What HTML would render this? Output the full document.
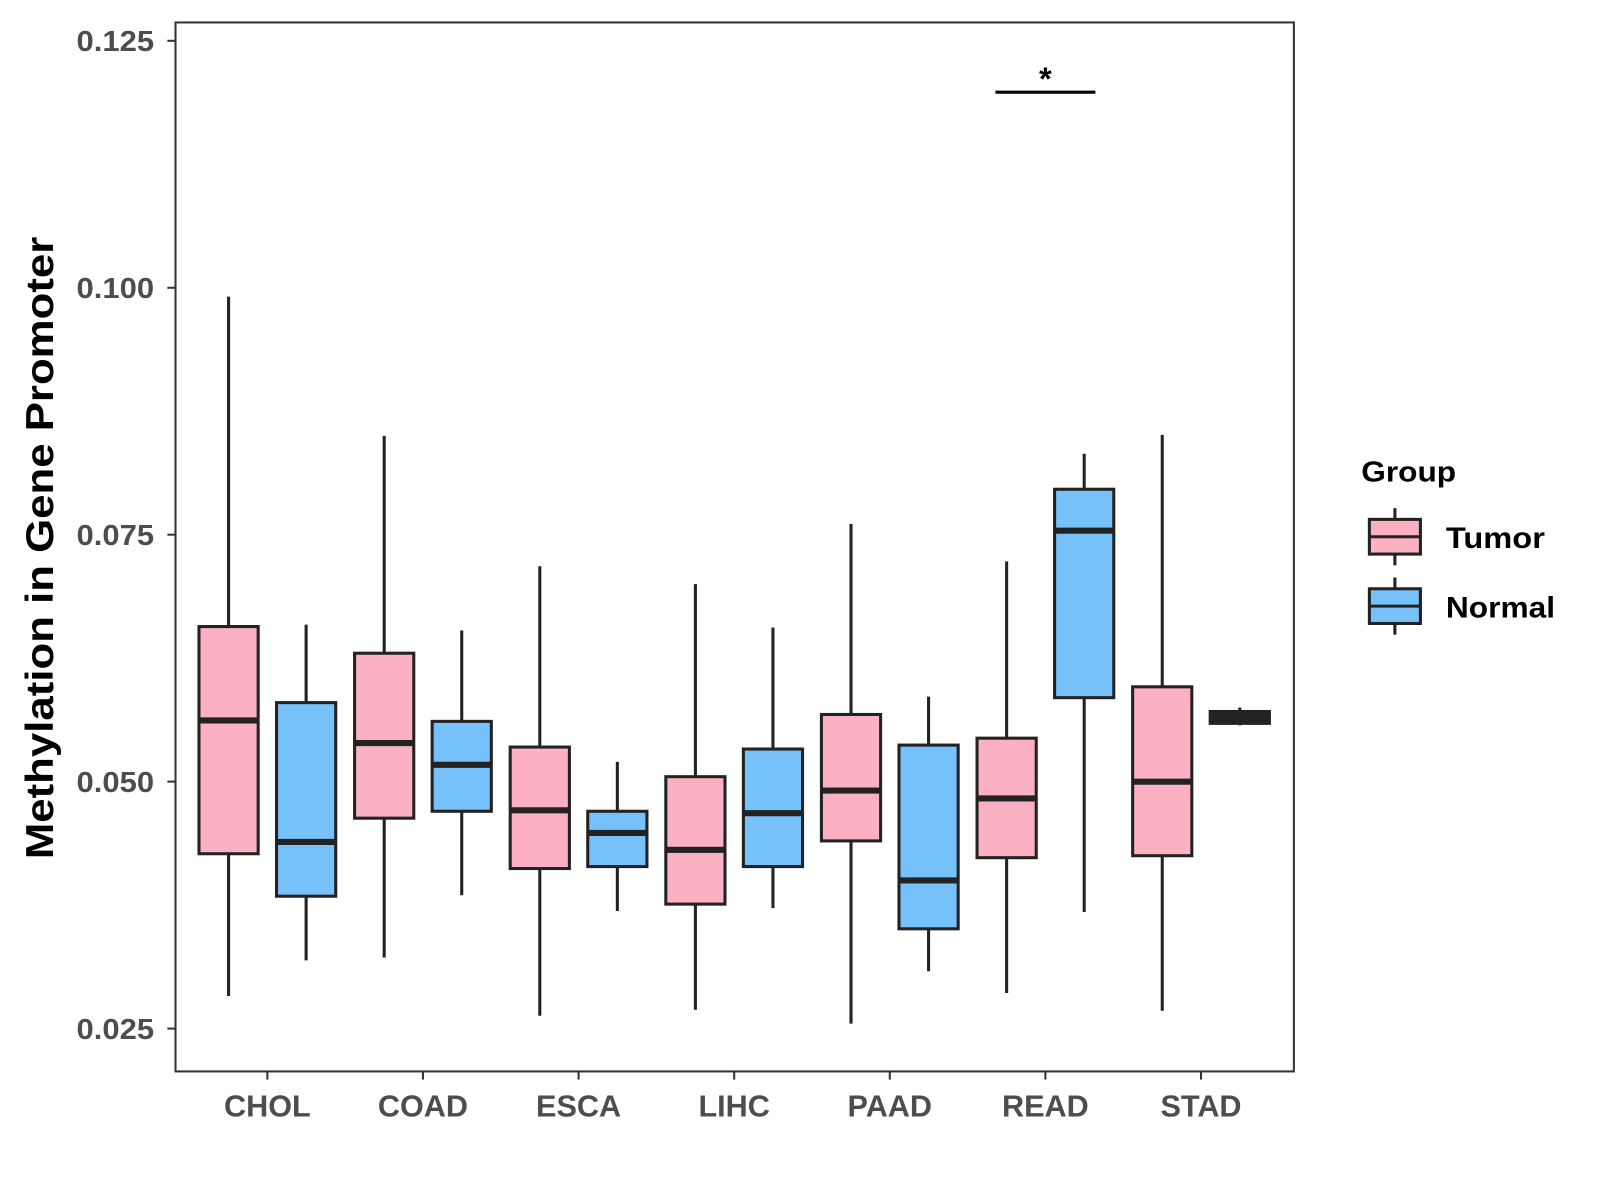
<!DOCTYPE html>
<html><head><meta charset="utf-8"><style>
html,body{margin:0;padding:0;background:#fff}
svg{display:block;font-family:"Liberation Sans",Arial,sans-serif}
</style></head><body>
<svg id="chart" width="1600" height="1200" viewBox="0 0 1568 1176" xmlns="http://www.w3.org/2000/svg">
<rect x="0" y="0" width="1568" height="1176" fill="#fff"/>
<g id="marks"></g>
<rect x="172" y="22" width="1096" height="1028" fill="none" stroke="#333" stroke-width="2"/>
<g id="axes"></g>
<text transform="translate(52,537) rotate(-90)" text-anchor="middle" font-size="38" font-weight="bold" fill="#000" textLength="610" lengthAdjust="spacingAndGlyphs">Methylation in Gene Promoter</text>
<g>
<text x="1334" y="472" font-size="28" font-weight="bold" fill="#000" textLength="93" lengthAdjust="spacingAndGlyphs">Group</text>
<g>
<line x1="1367" y1="498" x2="1367" y2="554" stroke="#222" stroke-width="3"/>
<rect x="1342" y="509" width="50" height="34" fill="#FBB1C2" stroke="#222" stroke-width="3"/>
<line x1="1342" y1="526" x2="1392" y2="526" stroke="#222" stroke-width="3"/>
<text x="1417" y="537" font-size="29" font-weight="bold" fill="#000" textLength="97" lengthAdjust="spacingAndGlyphs">Tumor</text>
</g>
<g>
<line x1="1367" y1="566" x2="1367" y2="622" stroke="#222" stroke-width="3"/>
<rect x="1342" y="577" width="50" height="34" fill="#77C1FA" stroke="#222" stroke-width="3"/>
<line x1="1342" y1="594" x2="1392" y2="594" stroke="#222" stroke-width="3"/>
<text x="1417" y="605" font-size="29" font-weight="bold" fill="#000" textLength="107" lengthAdjust="spacingAndGlyphs">Normal</text>
</g>
</g>
</svg>
<script>
const categories = ["CHOL","COAD","ESCA","LIHC","PAAD","READ","STAD"];
const yTicks = [0.025,0.05,0.075,0.1,0.125];
const yTickLabels = ["0.025","0.050","0.075","0.100","0.125"];
const tumorMin = [0.0283,0.0322,0.0263,0.0269,0.0255,0.0286,0.0268];
const tumorQ1 = [0.0427,0.0463,0.0412,0.0376,0.0440,0.0423,0.0425];
const tumorMed = [0.0562,0.0539,0.0471,0.0431,0.0491,0.0483,0.0500];
const tumorQ3 = [0.0657,0.0630,0.0535,0.0505,0.0568,0.0544,0.0596];
const tumorMax = [0.0991,0.0850,0.0718,0.0700,0.0761,0.0723,0.0851];
const normalMin = [0.0319,0.0385,0.0369,0.0372,0.0308,0.0368,0.0557];
const normalQ1 = [0.0384,0.0470,0.0414,0.0414,0.0351,0.0585,0.0559];
const normalMed = [0.0439,0.0517,0.0448,0.0468,0.0400,0.0754,0.0565];
const normalQ3 = [0.0580,0.0561,0.0470,0.0533,0.0537,0.0796,0.0571];
const normalMax = [0.0659,0.0653,0.0520,0.0656,0.0586,0.0832,0.0575];
const sigCategory = ["READ"];
const sigLabel = ["*"];
const sigValue = [0.1198];

const NS="http://www.w3.org/2000/svg";
function y(v){return 1008-(v-0.025)*9680;}
function x(i){return 262+i*152.5;}
function el(tag,attrs,parent){const e=document.createElementNS(NS,tag);for(const k in attrs)e.setAttribute(k,attrs[k]);parent.appendChild(e);return e;}
const marks=document.getElementById('marks');
const axes=document.getElementById('axes');
const BW=58, OFF=38;
function drawBox(i,cx,mn,q1,md,q3,mx,fill,name){
  const g=el('g',{},marks);
  
  
  el('line',{x1:cx,x2:cx,y1:y(mx),y2:y(mn),stroke:'#222','stroke-width':3},g);
  const h=y(q1)-y(q3);
  el('rect',{x:cx-BW/2,y:y(q3),width:BW,height:Math.max(h,1),fill:h<20?'#222':fill,stroke:'#222','stroke-width':3},g);
  el('line',{x1:cx-BW/2,x2:cx+BW/2,y1:y(md),y2:y(md),stroke:'#222','stroke-width':6},g);
}
categories.forEach((c,i)=>{
  drawBox(i,x(i)-OFF,tumorMin[i],tumorQ1[i],tumorMed[i],tumorQ3[i],tumorMax[i],'#FBB1C2','box-tumor-'+c.toLowerCase());
  drawBox(i,x(i)+OFF,normalMin[i],normalQ1[i],normalMed[i],normalQ3[i],normalMax[i],'#77C1FA','box-normal-'+c.toLowerCase());
  const t=el('line',{x1:x(i),x2:x(i),y1:1050,y2:1058,stroke:'#333','stroke-width':2},axes);
  
  
  const l=el('text',{x:x(i),y:1094,'text-anchor':'middle','font-size':30,'font-weight':'bold',fill:'#4d4d4d'},axes);
  l.textContent=c;
  
  
});
yTicks.forEach((v,i)=>{
  const t=el('line',{x1:164,x2:172,y1:y(v),y2:y(v),stroke:'#333','stroke-width':2},axes);
  
  
  const l=el('text',{x:151,y:y(v)+10,'text-anchor':'end','font-size':28,'font-weight':'bold',fill:'#4d4d4d',textLength:76,lengthAdjust:'spacingAndGlyphs'},axes);
  l.textContent=yTickLabels[i];
  
  
});
sigCategory.forEach((c,k)=>{
  const i=categories.indexOf(c);
  const ln=el('line',{x1:x(i)-49,x2:x(i)+49,y1:y(sigValue[k]),y2:y(sigValue[k]),stroke:'#000','stroke-width':3},marks);
  
  
  const s=el('text',{x:x(i),y:y(sigValue[k])-2,'text-anchor':'middle','font-size':32,'font-weight':'bold',fill:'#000'},marks);
  s.textContent=sigLabel[k];
  
  
});
</script>
</body></html>
